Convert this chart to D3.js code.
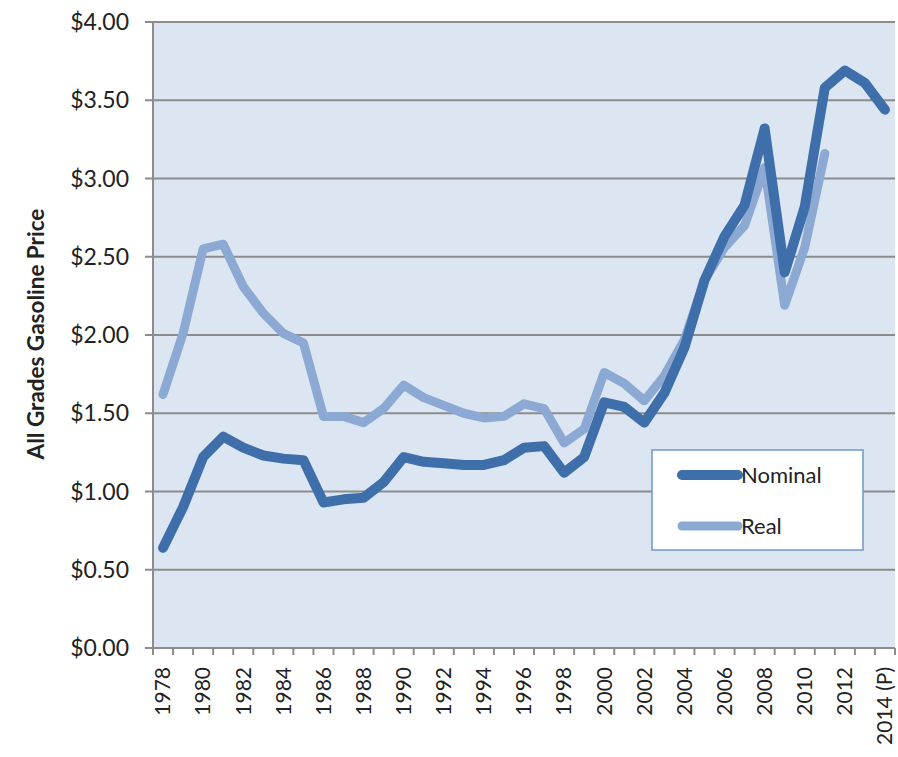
<!DOCTYPE html>
<html>
<head>
<meta charset="utf-8">
<script src="https://cdn.jsdelivr.net/npm/d3@7"></script>
<style>
  body { margin: 0; background: #fff; }
  svg { display: block; font-family: Lato, "Open Sans", sans-serif; }
  .tick-label { fill: #222; }
</style>
</head>
<body>
<svg id="chart" width="898" height="757"></svg>
<script>
// Gasoline price chart, nominal vs. real dollars, 1978 - 2014 (projected).

const years = d3.range(1978, 2015);
const nominal = [
  0.64, 0.90, 1.22, 1.35, 1.28, 1.23, 1.21, 1.20, 0.93, 0.95,
  0.96, 1.06, 1.22, 1.19, 1.18, 1.17, 1.17, 1.20, 1.28, 1.29,
  1.12, 1.22, 1.57, 1.54, 1.44, 1.63, 1.92, 2.35, 2.63, 2.83,
  3.32, 2.40, 2.82, 3.58, 3.69, 3.61, 3.44
];
const real = [
  1.62, 2.01, 2.55, 2.58, 2.31, 2.14, 2.01, 1.95, 1.48, 1.48,
  1.44, 1.53, 1.68, 1.60, 1.55, 1.50, 1.47, 1.48, 1.56, 1.53,
  1.31, 1.40, 1.76, 1.69, 1.58, 1.74, 1.97, 2.35, 2.56, 2.70,
  3.07, 2.19, 2.56, 3.16
];
const yTicks = [0, 0.5, 1, 1.5, 2, 2.5, 3, 3.5, 4];
const xLabels = [
  "1978", "1980", "1982", "1984", "1986", "1988", "1990", "1992", "1994",
  "1996", "1998", "2000", "2002", "2004", "2006", "2008", "2010", "2012", "2014 (P)"
];
const seriesNames = ["Nominal", "Real"];

const NOMINAL_COLOR = "#3f6faa";
const REAL_COLOR = "#8ca9d3";
const GRID_COLOR = "#8c8c8c";

const plotLeft = 153;
const plotRight = 895;
const plotTop = 22;
const plotBottom = 648;

const svg = d3.select("#chart");

const xScale = d3.scaleBand()
  .domain(years)
  .range([plotLeft, plotRight])
  .padding(0);
const xMid = (year) => xScale(year) + xScale.bandwidth() / 2;

const yScale = d3.scaleLinear()
  .domain([0, 4])
  .range([plotBottom, plotTop]);

svg.append("rect")
  .attr("x", plotLeft)
  .attr("y", plotTop)
  .attr("width", plotRight - plotLeft)
  .attr("height", plotBottom - plotTop)
  .attr("fill", "#dce6f2");

// horizontal grid + left tick marks
svg.append("g")
  .selectAll("line")
  .data(yTicks)
  .join("line")
  .attr("x1", plotLeft - 8)
  .attr("x2", plotRight)
  .attr("y1", (d) => yScale(d))
  .attr("y2", (d) => yScale(d))
  .attr("stroke", GRID_COLOR)
  .attr("stroke-width", 2);

svg.append("g")
  .selectAll("text")
  .data(yTicks)
  .join("text")
  .attr("class", "tick-label")
  .attr("x", plotLeft - 24)
  .attr("y", (d) => yScale(d))
  .attr("dy", "0.35em")
  .attr("text-anchor", "end")
  .attr("font-size", 23)
  .text((d) => d3.format("$.2f")(d));

// y axis line
svg.append("line")
  .attr("x1", plotLeft)
  .attr("x2", plotLeft)
  .attr("y1", plotTop)
  .attr("y2", plotBottom)
  .attr("stroke", GRID_COLOR)
  .attr("stroke-width", 2);

// x axis: Excel-style tick marks between categories
const boundaries = years.map((y) => xScale(y)).concat([plotRight]);
svg.append("g")
  .selectAll("line")
  .data(boundaries)
  .join("line")
  .attr("x1", (d) => d)
  .attr("x2", (d) => d)
  .attr("y1", plotBottom)
  .attr("y2", plotBottom + 7)
  .attr("stroke", GRID_COLOR)
  .attr("stroke-width", 2);

svg.append("line")
  .attr("x1", plotLeft)
  .attr("x2", plotRight)
  .attr("y1", plotBottom)
  .attr("y2", plotBottom)
  .attr("stroke", GRID_COLOR)
  .attr("stroke-width", 2);

svg.append("g")
  .selectAll("text")
  .data(xLabels)
  .join("text")
  .attr("class", "tick-label")
  .attr("transform", (d) => `translate(${xMid(+d.slice(0, 4))},${plotBottom + 19}) rotate(-90)`)
  .attr("dy", "0.35em")
  .attr("text-anchor", "end")
  .attr("font-size", 21)
  .text((d) => d);

svg.append("text")
  .attr("transform", "translate(36,334) rotate(-90)")
  .attr("text-anchor", "middle")
  .attr("dy", "0.35em")
  .attr("font-size", 22.5)
  .attr("font-weight", "bold")
  .attr("fill", "#222")
  .text("All Grades Gasoline Price");

const lineGen = d3.line()
  .x((d) => xMid(d.year))
  .y((d) => yScale(d.value));

const toPoints = (values) => values.map((v, i) => ({ year: years[i], value: v }));

svg.append("path")
  .datum(toPoints(real))
  .attr("d", lineGen)
  .attr("fill", "none")
  .attr("stroke", REAL_COLOR)
  .attr("stroke-width", 9)
  .attr("stroke-linejoin", "round")
  .attr("stroke-linecap", "round");

svg.append("path")
  .datum(toPoints(nominal))
  .attr("d", lineGen)
  .attr("fill", "none")
  .attr("stroke", NOMINAL_COLOR)
  .attr("stroke-width", 10)
  .attr("stroke-linejoin", "round")
  .attr("stroke-linecap", "round");

// legend
const legend = svg.append("g").attr("transform", "translate(652,450)");
legend.append("rect")
  .attr("width", 211)
  .attr("height", 100)
  .attr("fill", "#fff")
  .attr("stroke", "#6f98cb")
  .attr("stroke-width", 1.5);

const legendColors = [NOMINAL_COLOR, REAL_COLOR];
const legendRows = legend.selectAll("g.row")
  .data(seriesNames)
  .join("g")
  .attr("class", "row")
  .attr("transform", (d, i) => `translate(0,${25 + i * 51})`);
legendRows.append("line")
  .attr("x1", 30)
  .attr("x2", 86)
  .attr("stroke", (d, i) => legendColors[i])
  .attr("stroke-width", (d, i) => (i === 0 ? 10 : 9))
  .attr("stroke-linecap", "round");
legendRows.append("text")
  .attr("x", 89)
  .attr("dy", "0.35em")
  .attr("font-size", 22)
  .attr("fill", "#222")
  .text((d) => d);
</script>
</body>
</html>
